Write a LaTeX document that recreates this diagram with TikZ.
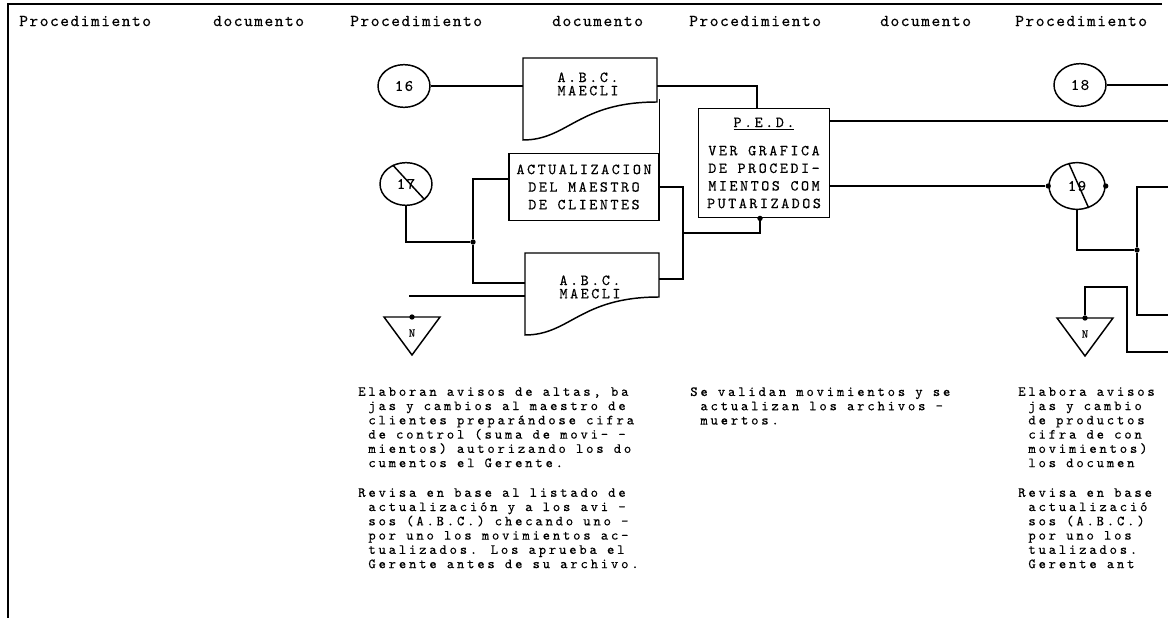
\documentclass[tikz,border=0pt]{standalone}
\usepackage{fontspec}
\usepackage{tikz}
\usetikzlibrary{shapes,arrows,positioning,calc}
\newfontfamily\typer[LetterSpace=9, FakeBold=0.3]{lmmono10-regular.otf}
\newfontfamily\typernote[LetterSpace=20, FakeBold=0.3]{lmmono10-regular.otf}
\newfontfamily\typerwide[LetterSpace=16.5, FakeBold=0.3]{lmmono10-regular.otf}

\newcommand\docmark[1]{%
  \draw[ln, shift={(#1.center)}] (67,3) -- (67,-41) -- (-67,-41) -- (-67,41)
    .. controls (-22,41) and (-12,3) .. (67,3) -- cycle;}
\newcommand\trimark[1]{%
  \draw[ln, shift={(#1.center)}] (-28,-16) -- (28,-16) -- (0,22) -- cycle;
  \coordinate (#1top) at ($(#1.center)+(0,-16)$);}

\begin{document}
\begin{tikzpicture}[x=0.75pt, y=-0.75pt,
      ln/.style={line width=1.1pt},
      head/.style={anchor=west, inner sep=0pt, font=\typer\fontsize{12.5}{12.5}\selectfont},
      note/.style={anchor=north west, inner sep=0pt, align=left, font=\typernote\fontsize{10.5}{10.7}\selectfont},
      proc/.style={rectangle, draw, line width=1.1pt, align=center, inner sep=1pt, font=\typerwide\fontsize{11.5}{13.2}\selectfont},
      ellip/.style={ellipse, draw, line width=1.1pt, minimum width=39pt, minimum height=32pt, inner sep=0pt, font=\typer\fontsize{12}{12}\selectfont},
      doc/.style={rectangle, minimum width=100.5pt, minimum height=61.5pt, inner sep=0pt},
      doctxt/.style={align=center, inner sep=0pt, font=\typerwide\fontsize{11.5}{10}\selectfont},
      trin/.style={inner sep=0pt, font=\typer\fontsize{9}{9}\selectfont},
      dot/.style={circle, fill, inner sep=0pt, minimum size=4pt},
    ]
    \fill[white] (0,0) rectangle (1168,618);
    \useasboundingbox (0,0) rectangle (1168,618);
    % marco y encabezado
    \draw[ln] (1162,4) -- (8,4) -- (8,618);
    \foreach \x/\t [count=\i] in {19/Procedimiento, 213/documento, 350/Procedimiento, 552/documento, 689/Procedimiento, 880/documento, 1015/Procedimiento}
      \node[head] (h\i) at (\x,21) {\t};

    % simbolos
    \node[ellip] (c16) at (404,86) {16};
    \node[doc] (d1) at (590,99) {};
    \node[doctxt] (d1t) at (588,84) {A.B.C.\\MAECLI};
    \node[proc, minimum width=112.5pt, minimum height=50pt] (act) at (584,187) {ACTUALIZACION\\DEL MAESTRO\\DE CLIENTES};
    \node[ellip] (c17) at (406,184) {17};
    \node[doc] (d2) at (592,294) {};
    \node[doctxt] (d2t) at (590,287) {A.B.C.\\MAECLI};
    \node[proc, minimum width=98pt, minimum height=82pt] (ped) at (764,163) {\underline{P.E.D.}\\[8pt]VER GRAFICA\\DE PROCEDI-\\MIENTOS COM\\PUTARIZADOS};
    \node[ellip] (c18) at (1080,85) {18};
    \node[ellip, minimum width=42pt, minimum height=35pt] (c19) at (1077,186) {19};
    \node[trin] (n1) at (412,333) {N};
    \node[trin] (n2) at (1085,334) {N};
    \docmark{d1}
    \docmark{d2}
    \trimark{n1}
    \trimark{n2}
    \draw[ln] (c17.125) -- (c17.-40);
    \draw[ln] (c19.110) -- (c19.-62);

    % uniones
    \node[dot] (j1) at (473,242) {};
    \coordinate (j2) at (683,233);
    \node[dot] (pb) at ($(ped.south)+(-4,0)$) {};
    \node[dot] (j3) at (1137,250) {};
    \node[dot] (c19w) at (c19.west) {};
    \node[dot] (c19e) at (c19.east) {};
    \node[dot] (n1d) at (n1top) {};
    \node[dot] (n2d) at (n2top) {};
    \coordinate (nfree) at (409,296);
    \coordinate (k2) at (1127,287);
    \coordinate (e1) at (1168,121);
    \coordinate (e3) at (1168,187);
    \coordinate (e4) at (1168,315);
    \coordinate (e5) at (1168,352);

    % lineas
    \draw[ln] (c16) -- (c16 -| d1.west);
    \draw[ln] (c16 -| d1.east) -| ($(ped.north)+(-7,0)$);
    \draw[ln] (act.north east) -- (act.north east |- d1.east);
    \draw[ln] ([yshift=6pt]act.west) -| (j1) |- ($(d2.west)+(0,-11)$);
    \draw[ln] (c17) |- (j1);
    \draw[ln] (nfree) -- (nfree -| d2.west);
    \draw[ln] (act.east) -| (j2) |- ($(d2.east)+(0,-15)$);
    \draw[ln] (j2) -| (pb);
    \draw[ln] (ped.east |- e1) -- (e1);
    \draw[ln] (ped.east |- c19) -- (c19w);
    \draw[ln] (c18) -- (c18 -| e1);
    \draw[ln] (c19) |- (j3);
    \draw[ln] (e3) -| (j3) |- (e4);
    \draw[ln] (n2d) |- (k2) |- (e5);

    % textos
    \node[note] (t1) at (358,387) {Elaboran avisos de altas, ba\\\ jas y cambios al maestro de\\\ clientes preparándose cifra\\\ de control (suma de movi- -\\\ mientos) autorizando los do\\\ cumentos el Gerente.};
    \node[note] (t2) at (358,488) {Revisa en base al listado de\\\ actualización y a los avi -\\\ sos (A.B.C.) checando uno -\\\ por uno los movimientos ac-\\\ tualizados. Los aprueba el\\\ Gerente antes de su archivo.};
    \node[note] (t3) at (690,387) {Se validan movimientos y se\\\ actualizan los archivos -\\\ muertos.};
    \node[note] (t4) at (1018,387) {Elabora avisos\\\ jas y cambio\\\ de productos\\\ cifra de con\\\ movimientos)\\\ los documen};
    \node[note] (t5) at (1018,488) {Revisa en base\\\ actualizació\\\ sos (A.B.C.)\\\ por uno los\\\ tualizados.\\\ Gerente ant};
  \end{tikzpicture}
\end{document}
